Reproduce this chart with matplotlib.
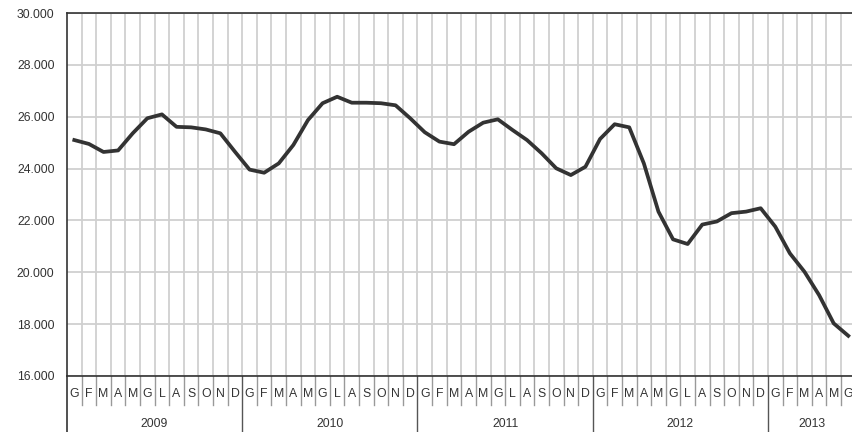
import matplotlib

matplotlib.use("Agg")

import matplotlib.pyplot as plt
import matplotlib.transforms as mtransforms

# Monthly values, Jan 2009 - Jun 2013 (thousands)
month_labels = ["G", "F", "M", "A", "M", "G", "L", "A", "S", "O", "N", "D"]
years = ["2009", "2010", "2011", "2012", "2013"]
months_per_year = [12, 12, 12, 12, 6]
values = [
    25.10, 24.95, 24.64, 24.70, 25.36, 25.94, 26.09, 25.61, 25.59, 25.51, 25.36, 24.65,
    23.96, 23.84, 24.20, 24.91, 25.87, 26.52, 26.77, 26.54, 26.54, 26.52, 26.44, 25.94,
    25.40, 25.04, 24.94, 25.42, 25.77, 25.90, 25.49, 25.10, 24.59, 24.01, 23.75, 24.07,
    25.14, 25.71, 25.59, 24.20, 22.34, 21.27, 21.09, 21.84, 21.96, 22.28, 22.34, 22.47,
    21.76, 20.73, 20.02, 19.12, 18.03, 17.55,
]
y_ticks = [16, 18, 20, 22, 24, 26, 28, 30]

W, H = 853, 432
fig = plt.figure(figsize=(W / 100, H / 100), dpi=100)
left, right, top, bottom = 67, 855.6, 13, 376
ax = fig.add_axes([left / W, (H - bottom) / H, (right - left) / W, (bottom - top) / H])

n = len(values)
x = list(range(n))
ax.plot(x, values, color="#333333", linewidth=2.7, solid_joinstyle="round", zorder=3)

ax.set_xlim(-0.5, n - 0.5)
ax.set_ylim(16, 30)
ax.set_yticks(y_ticks)
ax.set_yticklabels([f"{t}.000" for t in y_ticks], fontsize=8.8, color="#333333",
                   family="Liberation Sans")
ax.tick_params(axis="y", length=0, pad=9)
ax.set_xticks([k - 0.5 for k in range(1, n)])
ax.set_xticklabels([])
ax.tick_params(axis="x", length=0)
ax.grid(True, color="#d0d0d0", linewidth=1.3)
ax.set_axisbelow(True)

for side in ["left", "bottom", "top"]:
    ax.spines[side].set_color("#333333")
    ax.spines[side].set_linewidth(1.2)
ax.spines["right"].set_visible(False)

# month / year category labels below the axis
trans = mtransforms.blended_transform_factory(ax.transData, ax.transAxes)
ax_h = bottom - top
month_bottom = -(405 - bottom) / ax_h
year_bottom = -(H - bottom) / ax_h
month_y = -(394 - bottom) / ax_h
year_y = -(424 - bottom) / ax_h

idx = 0
for year, count in zip(years, months_per_year):
    start = idx
    for m in range(count):
        ax.text(idx, month_y, month_labels[m], transform=trans, ha="center", va="center",
                fontsize=8.8, color="#333333", family="Liberation Sans")
        if m > 0:
            ax.plot([idx - 0.5, idx - 0.5], [0, month_bottom], transform=trans,
                    color="#999999", linewidth=1.0, clip_on=False)
        idx += 1
    ax.plot([start - 0.5, start - 0.5], [0, year_bottom], transform=trans,
            color="#555555" if start > 0 else "#333333", linewidth=1.0 if start > 0 else 1.2,
            clip_on=False)
    ax.text((start + idx - 1) / 2, year_y, year, transform=trans, ha="center", va="center",
            fontsize=8.8, color="#333333", family="Liberation Sans")

fig.savefig("out.png", dpi=100)
